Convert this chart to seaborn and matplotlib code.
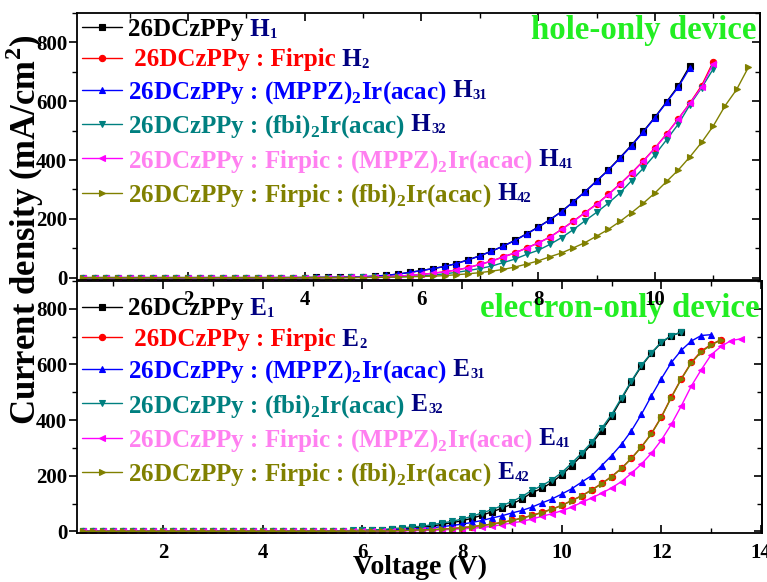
import matplotlib
matplotlib.use("Agg")
import matplotlib.pyplot as plt
from matplotlib.ticker import MultipleLocator
import seaborn as sns

# -------------------------------------------------------------------------
# DATA (0.2 V steps)
# -------------------------------------------------------------------------
V_HOLE = [0.2, 0.4, 0.6, 0.8, 1.0, 1.2, 1.4, 1.6, 1.8, 2.0,
          2.2, 2.4, 2.6, 2.8, 3.0, 3.2, 3.4, 3.6, 3.8, 4.0,
          4.2, 4.4, 4.6, 4.8, 5.0, 5.2, 5.4, 5.6, 5.8, 6.0,
          6.2, 6.4, 6.6, 6.8, 7.0, 7.2, 7.4, 7.6, 7.8, 8.0,
          8.2, 8.4, 8.6, 8.8, 9.0, 9.2, 9.4, 9.6, 9.8, 10.0,
          10.2, 10.4, 10.6, 10.8, 11.0, 11.2, 11.4, 11.6]

H1 = [0, 0, 0, 0, 0, 0, 0, 0, 0, 0, 0, 0, 0, 0, 0, 0, 0, 0.1, 0.2, 0.4,
      0.6, 0.9, 1.3, 1.9, 3,
      5, 8, 12, 18, 24,
      31, 38, 48, 61, 74,
      90, 107, 127, 149, 172,
      197, 225, 258, 292, 329,
      366, 408, 451, 497, 546,
      598, 652, 721]
H2 = [0, 0, 0, 0, 0, 0, 0, 0, 0, 0, 0, 0, 0, 0, 0, 0, 0, 0, 0.1, 0.1,
      0.2, 0.3, 0.5, 0.8, 1.2,
      2, 3, 5, 8, 11,
      15, 20, 26, 34, 45,
      56, 71, 84, 101, 118,
      138, 164, 192, 221, 250,
      283, 318, 356, 397, 441,
      489, 540, 594, 653, 735]
H31 = [0, 0, 0, 0, 0, 0, 0, 0, 0, 0, 0, 0, 0, 0, 0, 0, 0, 0.1, 0.2, 0.4,
       0.6, 0.9, 1.3, 2, 3,
       5, 8, 12, 18, 24,
       31, 38, 48, 60, 74,
       90, 107, 126, 148, 171,
       197, 224, 257, 291, 328,
       365, 406, 449, 495, 544,
       596, 648, 714]
H32 = [0, 0, 0, 0, 0, 0, 0, 0, 0, 0, 0, 0, 0, 0, 0, 0, 0, 0, 0, 0,
       0.1, 0.2, 0.4, 0.6, 0.9,
       1.3, 2, 3, 4, 6,
       9, 13, 18, 24, 31,
       39, 51, 63, 79, 93,
       113, 136, 163, 193, 222,
       253, 288, 330, 372, 418,
       469, 522, 588, 646, 710]
H41 = [0, 0, 0, 0, 0, 0, 0, 0, 0, 0, 0, 0, 0, 0, 0, 0, 0, 0, 0.1, 0.1,
       0.2, 0.3, 0.5, 0.8, 1.2,
       2, 3, 5, 8, 11,
       15, 20, 26, 34, 45,
       56, 70, 84, 100, 118,
       137, 164, 191, 220, 249,
       282, 317, 355, 396, 440,
       488, 539, 593, 648, 728]
H42 = [0, 0, 0, 0, 0, 0, 0, 0, 0, 0, 0, 0, 0, 0, 0, 0, 0, 0, 0, 0,
       0.1, 0.1, 0.2, 0.3, 0.5,
       0.8, 1.2, 2, 3, 4,
       5, 7, 10, 13, 17,
       22, 28, 36, 46, 57,
       71, 84, 101, 119, 141,
       164, 191, 221, 253, 288,
       327, 366, 411, 460, 516,
       584, 640, 715]

V_ELEC = [0.4, 0.6, 0.8, 1.0, 1.2, 1.4, 1.6, 1.8, 2.0, 2.2,
          2.4, 2.6, 2.8, 3.0, 3.2, 3.4, 3.6, 3.8, 4.0, 4.2,
          4.4, 4.6, 4.8, 5.0, 5.2, 5.4, 5.6, 5.8, 6.0, 6.2,
          6.4, 6.6, 6.8, 7.0, 7.2, 7.4, 7.6, 7.8, 8.0, 8.2,
          8.4, 8.6, 8.8, 9.0, 9.2, 9.4, 9.6, 9.8, 10.0, 10.2,
          10.4, 10.6, 10.8, 11.0, 11.2, 11.4, 11.6, 11.8, 12.0, 12.2,
          12.4, 12.6, 12.8, 13.0, 13.2, 13.4, 13.6]

E1 = [0, 0, 0, 0, 0, 0, 0, 0, 0, 0, 0, 0, 0, 0, 0, 0, 0, 0, 0, 0,
      0.1, 0.2, 0.3, 0.5, 0.7,
      1, 1.5, 2, 3, 4,
      5, 7, 9, 12, 15,
      19, 25, 31, 38, 47,
      58, 70, 83, 98, 116,
      139, 154, 176, 203, 236,
      273, 314, 362, 413, 476,
      538, 594, 640, 679, 703,
      716]
E2 = [0, 0, 0, 0, 0, 0, 0, 0, 0, 0, 0, 0, 0, 0, 0, 0, 0, 0, 0, 0,
      0, 0, 0.1, 0.1, 0.2,
      0.3, 0.4, 0.6, 0.8, 1,
      1.5, 2, 3, 4, 5,
      6, 8, 10, 13, 17,
      21, 26, 32, 39, 48,
      57, 68, 80, 93, 111,
      128, 149, 172, 197, 227,
      263, 304, 352, 412, 483,
      549, 607, 648, 672, 689]
E31 = [0, 0, 0, 0, 0, 0, 0, 0, 0, 0, 0, 0, 0, 0, 0, 0, 0, 0, 0, 0,
       0, 0.1, 0.1, 0.2, 0.3,
       0.4, 0.6, 0.8, 1, 2,
       3, 4, 6, 8, 10,
       13, 17, 21, 26, 32,
       39, 48, 56, 66, 75,
       87, 102, 116, 134, 153,
       177, 200, 236, 272, 313,
       362, 421, 487, 549, 607,
       651, 684, 704, 707]
E32 = [0, 0, 0, 0, 0, 0, 0, 0, 0, 0, 0, 0, 0, 0, 0, 0, 0, 0, 0, 0,
       0.2, 0.3, 0.5, 0.7, 1,
       1.4, 2, 3, 4, 5,
       6, 10, 12, 16, 18,
       24, 30, 36, 44, 54,
       66, 78, 92, 107, 125,
       147, 164, 185, 211, 245,
       281, 320, 370, 420, 480,
       541, 597, 642, 680, 704,
       716]
E41 = [0, 0, 0, 0, 0, 0, 0, 0, 0, 0, 0, 0, 0, 0, 0, 0, 0, 0, 0, 0,
       0, 0, 0, 0.1, 0.1,
       0.2, 0.3, 0.4, 0.6, 0.8,
       1, 1.5, 2, 2.5, 3,
       4, 5, 7, 9, 11,
       14, 18, 24, 30, 36,
       44, 54, 63, 74, 87,
       104, 120, 137, 156, 179,
       209, 242, 281, 328, 385,
       451, 522, 581, 635, 665,
       686, 692]
E42 = [0, 0, 0, 0, 0, 0, 0, 0, 0, 0, 0, 0, 0, 0, 0, 0, 0, 0, 0, 0,
       0, 0, 0.1, 0.1, 0.2,
       0.3, 0.4, 0.6, 0.8, 1,
       1.5, 2, 3, 4, 5,
       6, 8, 10, 13, 17,
       21, 26, 32, 39, 47,
       57, 67, 79, 93, 110,
       127, 148, 171, 196, 226,
       262, 303, 350, 410, 481,
       547, 605, 645, 670, 688]

LABELS = ["26DCzPPy",
          " 26DCzPPy : Firpic",
          "26DCzPPy : (MPPZ)$_2$Ir(acac)",
          "26DCzPPy : (fbi)$_2$Ir(acac)",
          "26DCzPPy : Firpic : (MPPZ)$_2$Ir(acac)",
          "26DCzPPy : Firpic : (fbi)$_2$Ir(acac)"]
TAGS = ["1", "2", "31", "32", "41", "42"]

LINE_COLORS = ["black", "red", "blue", "teal", "magenta", "olive"]
TEXT_COLORS = ["black", "red", "blue", "teal", "#ff80f0", "olive"]
MARKERS = ["s", "o", "^", "v", "<", ">"]
NAVY = "#000080"
GREEN = "#22ee22"

# -------------------------------------------------------------------------
# STYLE
# -------------------------------------------------------------------------
sns.set_theme(style="ticks")
plt.rcParams.update({
    "font.family": ["Liberation Serif", "DejaVu Serif"],
    "font.weight": "bold",
    "axes.labelweight": "bold",
    "mathtext.fontset": "custom",
    "mathtext.rm": "Liberation Serif:bold",
    "mathtext.bf": "Liberation Serif:bold",
    "axes.edgecolor": "black",
    "axes.linewidth": 1.3,
    "xtick.color": "black",
    "ytick.color": "black",
    "text.color": "black",
    "axes.labelcolor": "black",
})

fig = plt.figure(figsize=(7.67, 5.82), dpi=100)
ax_h = fig.add_axes([0.1004, 0.5189, 0.8905, 0.4588])
ax_e = fig.add_axes([0.1004, 0.0842, 0.8931, 0.4330])
for ax in (ax_h, ax_e):
    ax.patch.set_alpha(0)
ax_h.set_zorder(2)


def draw_panel(ax, volts, series, letter, legend_anchor):
    for vals, lab, lc, mk in zip(series, LABELS, LINE_COLORS, MARKERS):
        sns.lineplot(x=volts[:len(vals)], y=vals, ax=ax, color=lc, marker=mk,
                     markersize=4.5, markeredgecolor=lc, markeredgewidth=0.8,
                     linewidth=1.0, label=lab, sort=False)

    leg = ax.legend(loc="upper left", bbox_to_anchor=legend_anchor, frameon=False,
                    fontsize=18, handlelength=1.6, handletextpad=0.25,
                    labelspacing=0.3, borderpad=0.1, borderaxespad=0.1)
    # coloured label text + navy device tag (big letter, small digits)
    for txt, col, tag in zip(leg.get_texts(), TEXT_COLORS, TAGS):
        txt.set_color(col)
        txt.set_fontweight("bold")
        head = ax.annotate(" " + letter, xy=(1, 1), xycoords=txt, ha="left", va="top",
                           fontsize=18, fontweight="bold", color=NAVY, zorder=6)
        ax.annotate(tag, xy=(1, 0), xycoords=head, ha="left", va="bottom",
                    fontsize=10.5, fontweight="bold", color=NAVY, zorder=6)

    ax.yaxis.set_major_locator(MultipleLocator(200))
    ax.yaxis.set_minor_locator(MultipleLocator(100))
    ax.xaxis.set_major_locator(MultipleLocator(2))
    ax.xaxis.set_minor_locator(MultipleLocator(1))
    ax.tick_params(axis="x", which="both", direction="in", top=True, labelsize=15, pad=7)
    ax.tick_params(axis="y", which="both", direction="out", right=False, labelsize=15, pad=1)
    ax.tick_params(which="major", length=6, width=1.2)
    ax.tick_params(which="minor", length=3.5, width=1.0)
    ax.set_xlabel("")
    ax.set_ylabel("")

    right = ax.secondary_yaxis("right")
    right.yaxis.set_major_locator(MultipleLocator(200))
    right.yaxis.set_minor_locator(MultipleLocator(100))
    right.tick_params(which="both", direction="in", labelright=False)
    right.tick_params(which="major", length=6, width=1.2)
    right.tick_params(which="minor", length=3.5, width=1.0)


draw_panel(ax_h, V_HOLE, [H1, H2, H31, H32, H41, H42], "H", (0, 1.0))
draw_panel(ax_e, V_ELEC, [E1, E2, E31, E32, E41, E42], "E", (0, 0.955))

ax_h.set_xlim(0.1, 11.8)
ax_h.set_ylim(-8, 900)
ax_e.set_xlim(0.27, 14.02)
ax_e.set_ylim(-6, 900)

ax_h.text(0.995, 0.935, "hole-only device", transform=ax_h.transAxes, ha="right",
          va="center", fontsize=23.7, fontweight="bold", color=GREEN)
ax_e.text(0.997, 0.89, "electron-only device", transform=ax_e.transAxes, ha="right",
          va="center", fontsize=23.7, fontweight="bold", color=GREEN)

ax_e.set_xlabel("Voltage (V)", fontsize=20, labelpad=-6)
fig.text(0.032, 0.605, "Current density (mA/cm$^2$)", rotation=90, ha="center",
         va="center", fontsize=25, fontweight="bold")

fig.canvas.draw()
fig.savefig("out.png", dpi=100)
